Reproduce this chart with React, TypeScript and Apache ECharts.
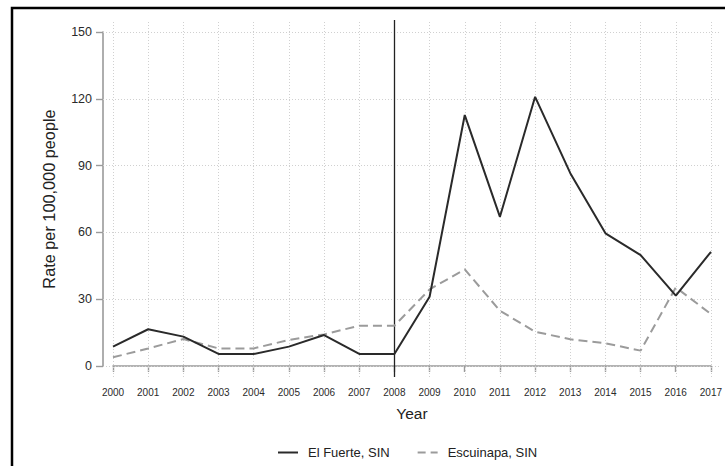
import React, { useEffect, useRef } from 'react';
import * as echarts from 'echarts';

const years = [2000, 2001, 2002, 2003, 2004, 2005, 2006, 2007, 2008, 2009, 2010, 2011, 2012, 2013, 2014, 2015, 2016, 2017];
const elFuerte = [8.7, 16.5, 13.2, 5.4, 5.4, 8.7, 13.9, 5.4, 5.4, 31.1, 112.7, 67.0, 120.9, 86.6, 59.6, 49.8, 31.6, 51.3];
const escuinapa = [3.9, 7.9, 12.1, 7.9, 7.9, 11.7, 14.2, 18.1, 18.1, 34.4, 43.4, 24.8, 15.4, 12.0, 10.2, 6.9, 35.3, 23.3];
const yTicks = [0, 30, 60, 90, 120, 150];
const eventYear = 2008;
const seriesNames = ['El Fuerte, SIN', 'Escuinapa, SIN'];

export default function App() {
  const ref = useRef<HTMLDivElement>(null);
  useEffect(() => {
    document.body.style.margin = '0';
    const chart = echarts.init(ref.current!, null, { renderer: 'svg' });
    const font = 'Arial, "Liberation Sans", Helvetica, sans-serif';
    const axisColor = '#9a9a9a';
    const gridLine = { color: '#d0d0d0', type: [1, 2], width: 1 };
    const markData: any[] = [
      ...years.map((y) => ({ xAxis: y, lineStyle: gridLine })),
      ...yTicks.map((v) => ({ yAxis: v, lineStyle: gridLine })),
      { xAxis: eventYear, lineStyle: { color: '#222', type: 'solid', width: 1.3 } },
    ];
    chart.setOption({
      animation: false,
      backgroundColor: '#fff',
      textStyle: { fontFamily: font },
      graphic: [
        {
          type: 'rect',
          shape: { x: 12, y: 8, width: 900, height: 700 },
          style: { fill: 'none', stroke: '#000', lineWidth: 2.5 },
          silent: true,
        },
      ],
      grid: [
        { left: 103, right: 5, top: 20, bottom: 89 },
        { left: 113, right: 14, top: 32, bottom: 100 },
      ],
      xAxis: [
        { gridIndex: 0, type: 'value', min: 1999.7157, max: 2017.256, show: false },
        {
          gridIndex: 1,
          type: 'value',
          min: 2000,
          max: 2017,
          interval: 1,
          offset: 11,
          axisLine: { show: true, lineStyle: { color: axisColor, width: 1.6 } },
          axisTick: { show: true, length: 6, lineStyle: { color: axisColor, width: 1.4 } },
          axisLabel: { margin: 10, fontSize: 10, color: '#2a2a2a', fontFamily: font, formatter: (v: number) => String(v) },
          splitLine: { show: false },
          name: 'Year',
          nameLocation: 'middle',
          nameGap: 28,
          nameTextStyle: { fontSize: 15.5, color: '#222', fontFamily: font },
        },
      ],
      yAxis: [
        { gridIndex: 0, type: 'value', min: -4.94, max: 155.39, show: false },
        {
          gridIndex: 1,
          type: 'value',
          min: 0,
          max: 150,
          interval: 30,
          offset: 10,
          axisLine: { show: true, lineStyle: { color: axisColor, width: 1.6 } },
          axisTick: { show: true, length: 7, lineStyle: { color: axisColor, width: 1.4 } },
          axisLabel: { margin: 11, fontSize: 12.5, color: '#2a2a2a', fontFamily: font },
          splitLine: { show: false },
          name: 'Rate per 100,000 people',
          nameLocation: 'middle',
          nameRotate: 90,
          nameGap: 46,
          nameTextStyle: { fontSize: 16.3, color: '#222', fontFamily: font },
        },
      ],
      legend: {
        data: [
          { name: seriesNames[0], icon: 'path://M0,0h20v2h-20z' },
          { name: seriesNames[1], icon: 'path://M0,0h8v2h-8zM13,0h7v2h-7z' },
        ],
        left: 278,
        top: 446,
        itemWidth: 20,
        itemHeight: 2,
        itemGap: 28,
        padding: 0,
        textStyle: { fontSize: 13, color: '#222', fontFamily: font, padding: [0, 0, 0, 5] },
      },
      series: [
        {
          name: seriesNames[0],
          type: 'line',
          xAxisIndex: 0,
          yAxisIndex: 0,
          symbol: 'none',
          data: years.map((y, i) => [y, elFuerte[i]]),
          lineStyle: { color: '#2a2a2a', width: 2 },
          itemStyle: { color: '#2a2a2a' },
          z: 3,
          markLine: {
            silent: true,
            z: 1,
            symbol: ['none', 'none'],
            label: { show: false },
            emphasis: { disabled: true },
            data: markData,
          },
        },
        {
          name: seriesNames[1],
          type: 'line',
          xAxisIndex: 0,
          yAxisIndex: 0,
          symbol: 'none',
          data: years.map((y, i) => [y, escuinapa[i]]),
          lineStyle: { color: '#9b9b9b', width: 2, type: [9, 5] },
          itemStyle: { color: '#9b9b9b' },
          z: 2,
        },
      ],
    });
    return () => chart.dispose();
  }, []);
  return (
    <div
      ref={ref}
      style={{ position: 'fixed', left: 0, top: 0, width: 725, height: 466, background: '#fff' }}
    />
  );
}
